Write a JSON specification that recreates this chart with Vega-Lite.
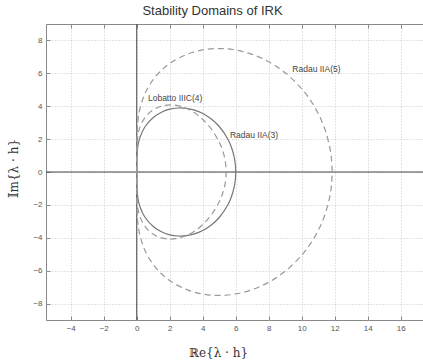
{
  "$schema": "https://vega.github.io/schema/vega-lite/v6.json",
  "width": 377,
  "height": 296,
  "autosize": {"type": "none"},
  "padding": {"left": 46, "top": 24, "right": 0, "bottom": 41},
  "background": "white",
  "title": {"text": "Stability Domains of IRK", "font": "Liberation Sans", "fontSize": 13, "fontWeight": "normal", "color": "#333", "dx": -22, "offset": 6},
  "config": {"view": {"stroke": "#888", "strokeWidth": 1}},
  "datasets": {
    "curves": [
      {"m": "R3", "i": 0, "x": 0, "y": 0},
      {"m": "R3", "i": 1, "x": 0.001, "y": 0.52},
      {"m": "R3", "i": 2, "x": 0.01, "y": 0.942},
      {"m": "R3", "i": 3, "x": 0.05, "y": 1.446},
      {"m": "R3", "i": 4, "x": 0.1, "y": 1.749},
      {"m": "R3", "i": 5, "x": 0.2, "y": 2.124},
      {"m": "R3", "i": 6, "x": 0.5, "y": 2.753},
      {"m": "R3", "i": 7, "x": 1, "y": 3.317},
      {"m": "R3", "i": 8, "x": 1.5, "y": 3.638},
      {"m": "R3", "i": 9, "x": 2, "y": 3.819},
      {"m": "R3", "i": 10, "x": 2.5, "y": 3.893},
      {"m": "R3", "i": 11, "x": 3, "y": 3.873},
      {"m": "R3", "i": 12, "x": 3.5, "y": 3.763},
      {"m": "R3", "i": 13, "x": 4, "y": 3.557},
      {"m": "R3", "i": 14, "x": 4.5, "y": 3.237},
      {"m": "R3", "i": 15, "x": 5, "y": 2.766},
      {"m": "R3", "i": 16, "x": 5.5, "y": 2.04},
      {"m": "R3", "i": 17, "x": 5.75, "y": 1.471},
      {"m": "R3", "i": 18, "x": 5.9, "y": 0.941},
      {"m": "R3", "i": 19, "x": 5.97, "y": 0.519},
      {"m": "R3", "i": 20, "x": 6, "y": 0},
      {"m": "R3", "i": 21, "x": 5.97, "y": -0.519},
      {"m": "R3", "i": 22, "x": 5.9, "y": -0.941},
      {"m": "R3", "i": 23, "x": 5.75, "y": -1.471},
      {"m": "R3", "i": 24, "x": 5.5, "y": -2.04},
      {"m": "R3", "i": 25, "x": 5, "y": -2.766},
      {"m": "R3", "i": 26, "x": 4.5, "y": -3.237},
      {"m": "R3", "i": 27, "x": 4, "y": -3.557},
      {"m": "R3", "i": 28, "x": 3.5, "y": -3.763},
      {"m": "R3", "i": 29, "x": 3, "y": -3.873},
      {"m": "R3", "i": 30, "x": 2.5, "y": -3.893},
      {"m": "R3", "i": 31, "x": 2, "y": -3.819},
      {"m": "R3", "i": 32, "x": 1.5, "y": -3.638},
      {"m": "R3", "i": 33, "x": 1, "y": -3.317},
      {"m": "R3", "i": 34, "x": 0.5, "y": -2.753},
      {"m": "R3", "i": 35, "x": 0.2, "y": -2.124},
      {"m": "R3", "i": 36, "x": 0.1, "y": -1.749},
      {"m": "R3", "i": 37, "x": 0.05, "y": -1.446},
      {"m": "R3", "i": 38, "x": 0.01, "y": -0.942},
      {"m": "R3", "i": 39, "x": 0.001, "y": -0.52},
      {"m": "R3", "i": 40, "x": 0, "y": 0},
      {"m": "L4", "i": 0, "x": 0, "y": 0},
      {"m": "L4", "i": 1, "x": 0.001, "y": 1.03},
      {"m": "L4", "i": 2, "x": 0.01, "y": 1.55},
      {"m": "L4", "i": 3, "x": 0.05, "y": 2.086},
      {"m": "L4", "i": 4, "x": 0.1, "y": 2.386},
      {"m": "L4", "i": 5, "x": 0.2, "y": 2.744},
      {"m": "L4", "i": 6, "x": 0.5, "y": 3.313},
      {"m": "L4", "i": 7, "x": 1, "y": 3.78},
      {"m": "L4", "i": 8, "x": 1.5, "y": 4.003},
      {"m": "L4", "i": 9, "x": 2, "y": 4.078},
      {"m": "L4", "i": 10, "x": 2.5, "y": 4.032},
      {"m": "L4", "i": 11, "x": 3, "y": 3.873},
      {"m": "L4", "i": 12, "x": 3.5, "y": 3.599},
      {"m": "L4", "i": 13, "x": 4, "y": 3.196},
      {"m": "L4", "i": 14, "x": 4.5, "y": 2.636},
      {"m": "L4", "i": 15, "x": 5, "y": 1.814},
      {"m": "L4", "i": 16, "x": 5.2, "y": 1.322},
      {"m": "L4", "i": 17, "x": 5.35, "y": 0.749},
      {"m": "L4", "i": 18, "x": 5.42, "y": 0},
      {"m": "L4", "i": 19, "x": 5.35, "y": -0.749},
      {"m": "L4", "i": 20, "x": 5.2, "y": -1.322},
      {"m": "L4", "i": 21, "x": 5, "y": -1.814},
      {"m": "L4", "i": 22, "x": 4.5, "y": -2.636},
      {"m": "L4", "i": 23, "x": 4, "y": -3.196},
      {"m": "L4", "i": 24, "x": 3.5, "y": -3.599},
      {"m": "L4", "i": 25, "x": 3, "y": -3.873},
      {"m": "L4", "i": 26, "x": 2.5, "y": -4.032},
      {"m": "L4", "i": 27, "x": 2, "y": -4.078},
      {"m": "L4", "i": 28, "x": 1.5, "y": -4.003},
      {"m": "L4", "i": 29, "x": 1, "y": -3.78},
      {"m": "L4", "i": 30, "x": 0.5, "y": -3.313},
      {"m": "L4", "i": 31, "x": 0.2, "y": -2.744},
      {"m": "L4", "i": 32, "x": 0.1, "y": -2.386},
      {"m": "L4", "i": 33, "x": 0.05, "y": -2.086},
      {"m": "L4", "i": 34, "x": 0.01, "y": -1.55},
      {"m": "L4", "i": 35, "x": 0.001, "y": -1.03},
      {"m": "L4", "i": 36, "x": 0, "y": 0},
      {"m": "R5", "i": 0, "x": 0, "y": 0},
      {"m": "R5", "i": 1, "x": 0.001, "y": 1.39},
      {"m": "R5", "i": 2, "x": 0.01, "y": 2.137},
      {"m": "R5", "i": 3, "x": 0.05, "y": 2.903},
      {"m": "R5", "i": 4, "x": 0.1, "y": 3.342},
      {"m": "R5", "i": 5, "x": 0.2, "y": 3.876},
      {"m": "R5", "i": 6, "x": 0.5, "y": 4.773},
      {"m": "R5", "i": 7, "x": 1, "y": 5.627},
      {"m": "R5", "i": 8, "x": 1.5, "y": 6.19},
      {"m": "R5", "i": 9, "x": 2, "y": 6.601},
      {"m": "R5", "i": 10, "x": 3, "y": 7.141},
      {"m": "R5", "i": 11, "x": 4, "y": 7.424},
      {"m": "R5", "i": 12, "x": 5, "y": 7.508},
      {"m": "R5", "i": 13, "x": 6, "y": 7.416},
      {"m": "R5", "i": 14, "x": 7, "y": 7.152},
      {"m": "R5", "i": 15, "x": 8, "y": 6.702},
      {"m": "R5", "i": 16, "x": 9, "y": 6.032},
      {"m": "R5", "i": 17, "x": 10, "y": 5.061},
      {"m": "R5", "i": 18, "x": 10.5, "y": 4.404},
      {"m": "R5", "i": 19, "x": 11, "y": 3.553},
      {"m": "R5", "i": 20, "x": 11.4, "y": 2.612},
      {"m": "R5", "i": 21, "x": 11.7, "y": 1.497},
      {"m": "R5", "i": 22, "x": 11.8, "y": 0.819},
      {"m": "R5", "i": 23, "x": 11.842, "y": 0},
      {"m": "R5", "i": 24, "x": 11.8, "y": -0.819},
      {"m": "R5", "i": 25, "x": 11.7, "y": -1.497},
      {"m": "R5", "i": 26, "x": 11.4, "y": -2.612},
      {"m": "R5", "i": 27, "x": 11, "y": -3.553},
      {"m": "R5", "i": 28, "x": 10.5, "y": -4.404},
      {"m": "R5", "i": 29, "x": 10, "y": -5.061},
      {"m": "R5", "i": 30, "x": 9, "y": -6.032},
      {"m": "R5", "i": 31, "x": 8, "y": -6.702},
      {"m": "R5", "i": 32, "x": 7, "y": -7.152},
      {"m": "R5", "i": 33, "x": 6, "y": -7.416},
      {"m": "R5", "i": 34, "x": 5, "y": -7.508},
      {"m": "R5", "i": 35, "x": 4, "y": -7.424},
      {"m": "R5", "i": 36, "x": 3, "y": -7.141},
      {"m": "R5", "i": 37, "x": 2, "y": -6.601},
      {"m": "R5", "i": 38, "x": 1.5, "y": -6.19},
      {"m": "R5", "i": 39, "x": 1, "y": -5.627},
      {"m": "R5", "i": 40, "x": 0.5, "y": -4.773},
      {"m": "R5", "i": 41, "x": 0.2, "y": -3.876},
      {"m": "R5", "i": 42, "x": 0.1, "y": -3.342},
      {"m": "R5", "i": 43, "x": 0.05, "y": -2.903},
      {"m": "R5", "i": 44, "x": 0.01, "y": -2.137},
      {"m": "R5", "i": 45, "x": 0.001, "y": -1.39},
      {"m": "R5", "i": 46, "x": 0, "y": 0}
    ],
    "labels": [
      {"t": "Lobatto IIIC(4)", "x": 0.68, "y": 4.52},
      {"t": "Radau IIA(3)", "x": 5.65, "y": 2.28},
      {"t": "Radau IIA(5)", "x": 9.43, "y": 6.27}
    ]
  },
  "layer": [
    {
      "data": {"values": [{"v": 0}]},
      "mark": {"type": "rule", "color": "#444", "strokeWidth": 1},
      "encoding": {
        "x": {
          "field": "v", "type": "quantitative",
          "scale": {"domain": [-5.5, 17.35], "nice": false, "zero": false},
          "axis": {
            "values": [-4, -2, 0, 2, 4, 6, 8, 10, 12, 14, 16],
            "grid": true, "gridColor": "#bbb", "gridDash": [1, 2], "gridWidth": 0.8,
            "domain": false, "ticks": true, "tickColor": "#888", "tickSize": -4,
            "labelFont": "Liberation Sans", "labelFontSize": 8, "labelColor": "#555", "labelPadding": 8,
            "title": "ℝe{λ · h}", "titleFont": "DejaVu Serif", "titleFontSize": 12, "titleFontWeight": "normal",
            "titleColor": "#333", "titleX": 172, "titleY": 32, "titleBaseline": "middle"
          }
        }
      }
    },
    {
      "data": {"values": [{"v": 0}]},
      "mark": {"type": "rule", "color": "#444", "strokeWidth": 1},
      "encoding": {
        "y": {
          "field": "v", "type": "quantitative",
          "scale": {"domain": [-9, 9], "nice": false, "zero": false},
          "axis": {
            "values": [-8, -6, -4, -2, 0, 2, 4, 6, 8],
            "grid": true, "gridColor": "#bbb", "gridDash": [1, 2], "gridWidth": 0.8,
            "domain": false, "ticks": true, "tickColor": "#888", "tickSize": -4,
            "labelFont": "Liberation Sans", "labelFontSize": 8, "labelColor": "#555", "labelPadding": 8,
            "title": "𝕀m{λ · h}", "titleFont": "DejaVu Serif", "titleFontSize": 12, "titleFontWeight": "normal",
            "titleColor": "#333", "titleX": -33, "titleY": 144, "titleBaseline": "middle"
          }
        }
      }
    },
    {
      "data": {"name": "curves"},
      "transform": [{"filter": "datum.m === 'R3'"}],
      "mark": {"type": "line", "color": "#777", "strokeWidth": 1.2, "interpolate": "catmull-rom"},
      "encoding": {
        "x": {"field": "x", "type": "quantitative", "axis": null},
        "y": {"field": "y", "type": "quantitative", "axis": null},
        "order": {"field": "i", "type": "quantitative"}
      }
    },
    {
      "data": {"name": "curves"},
      "transform": [{"filter": "datum.m === 'L4'"}],
      "mark": {"type": "line", "color": "#999", "strokeWidth": 1.2, "strokeDash": [6, 4], "interpolate": "catmull-rom"},
      "encoding": {
        "x": {"field": "x", "type": "quantitative", "axis": null},
        "y": {"field": "y", "type": "quantitative", "axis": null},
        "order": {"field": "i", "type": "quantitative"}
      }
    },
    {
      "data": {"name": "curves"},
      "transform": [{"filter": "datum.m === 'R5'"}],
      "mark": {"type": "line", "color": "#999", "strokeWidth": 1.2, "strokeDash": [6, 4], "interpolate": "catmull-rom"},
      "encoding": {
        "x": {"field": "x", "type": "quantitative", "axis": null},
        "y": {"field": "y", "type": "quantitative", "axis": null},
        "order": {"field": "i", "type": "quantitative"}
      }
    },
    {
      "data": {"name": "labels"},
      "mark": {"type": "text", "font": "Liberation Sans", "fontSize": 8.5, "color": "#444", "align": "left", "baseline": "middle"},
      "encoding": {
        "x": {
          "field": "x", "type": "quantitative",
          "axis": {"orient": "top", "values": [-4, -2, 0, 2, 4, 6, 8, 10, 12, 14, 16], "labels": false, "grid": false, "domain": false, "ticks": true, "tickColor": "#888", "tickSize": -4, "title": null}
        },
        "y": {"field": "y", "type": "quantitative", "axis": null},
        "text": {"field": "t"}
      }
    }
  ],
  "resolve": {"axis": {"x": "independent", "y": "independent"}}
}
